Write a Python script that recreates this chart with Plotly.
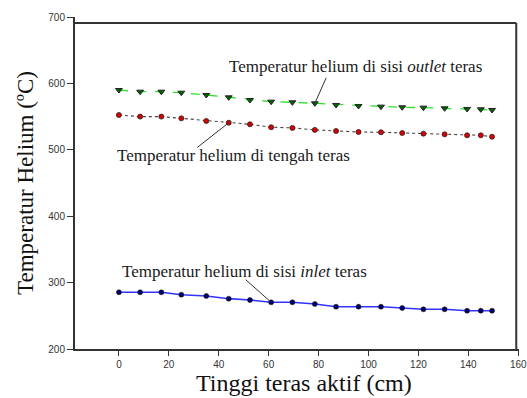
import plotly.graph_objects as go

x_cm = [0, 8.5, 17, 25, 35, 44, 52.5, 61, 69.5, 78.5, 87, 96, 105, 113.5, 122, 130.5, 139.5, 145, 149.5]
t_outlet = [590, 587.5, 587.5, 586, 582.5, 579, 575, 572.5, 571.5, 570, 567.5, 566, 565, 564, 563.5, 562.5, 561.5, 561, 560]
t_tengah = [552.4, 550, 550, 547.4, 543.4, 540.8, 538.4, 534, 533, 530, 528.3, 526.8, 526.4, 525.3, 524.3, 523.3, 521.8, 521.8, 519.7]
t_inlet = [285.4, 285.4, 285.4, 281.8, 279.8, 275.8, 273.8, 270.3, 270.3, 267.8, 263.7, 263.7, 263.7, 261.7, 259.8, 259.8, 257.7, 257.7, 257.7]

x_ticks = [0, 20, 40, 60, 80, 100, 120, 140, 160]
y_ticks = [200, 300, 400, 500, 600, 700]

serif = "Liberation Serif, Times New Roman, serif"
axc = "#333333"

fig = go.Figure()
fig.add_trace(go.Scatter(x=x_cm, y=t_outlet, mode="lines+markers",
    line=dict(color="#33dd33", width=1.3, dash="dash"),
    marker=dict(symbol="triangle-down", size=6, color="#006400", line=dict(color="#222", width=1))))
fig.add_trace(go.Scatter(x=x_cm, y=t_tengah, mode="lines+markers",
    line=dict(color="#444444", width=1.1, dash="dot"),
    marker=dict(symbol="circle", size=5, color="#dd0000", line=dict(color="#222", width=0.8))))
fig.add_trace(go.Scatter(x=x_cm, y=t_inlet, mode="lines+markers",
    line=dict(color="#3333ff", width=1.6),
    marker=dict(symbol="circle", size=5, color="#000066", line=dict(color="#111", width=0.5))))

ann_font = dict(family=serif, size=17, color="#1a1a1a")
fig.add_annotation(x=94.8, y=626, text="Temperatur helium di sisi <i>outlet</i> teras",
    showarrow=False, font=ann_font, xref="x", yref="y")
fig.add_annotation(x=x_cm[9], y=t_outlet[9], ax=12, ay=-27, text="", showarrow=True,
    arrowhead=0, arrowwidth=1, arrowcolor="#333", xref="x", yref="y")
fig.add_annotation(x=46, y=492, text="Temperatur helium di tengah teras",
    showarrow=False, font=ann_font, xref="x", yref="y")
fig.add_annotation(x=x_cm[5], y=t_tengah[5], ax=-33, ay=26, text="", showarrow=True,
    arrowhead=0, arrowwidth=1, arrowcolor="#333", xref="x", yref="y")
fig.add_annotation(x=50.4, y=316, text="Temperatur helium di sisi <i>inlet</i> teras",
    showarrow=False, font=ann_font, xref="x", yref="y")
fig.add_annotation(x=x_cm[7], y=t_inlet[7], ax=-27, ay=-24, text="", showarrow=True,
    arrowhead=0, arrowwidth=1, arrowcolor="#333", xref="x", yref="y")

# x-axis title
fig.add_annotation(x=0.516, y=0, xref="paper", yref="paper", yshift=-34, yanchor="middle",
    text="Tinggi teras aktif (cm)", showarrow=False,
    font=dict(family=serif, size=24, color="#111"))

# frame top and right
fig.add_shape(type="line", x0=-17.6, x1=159.2, y0=691, y1=691, xref="x", yref="y",
    line=dict(color=axc, width=2))
fig.add_shape(type="line", x0=159.2, x1=159.2, y0=200, y1=691, xref="x", yref="y",
    line=dict(color=axc, width=2))

fig.update_layout(
    width=527, height=398, showlegend=False,
    paper_bgcolor="white", plot_bgcolor="white",
    margin=dict(l=75, r=8, t=17, b=49, autoexpand=False),
    xaxis=dict(range=[-17.6, 160.3], tickvals=x_ticks, ticks="outside", ticklen=5,
        tickcolor=axc, showline=True, linecolor=axc, linewidth=2, showgrid=False,
        zeroline=False, ticklabeloverflow="allow", automargin=False,
        tickfont=dict(family="Liberation Sans, Arial", size=10, color="#333")),
    yaxis=dict(range=[200, 700], tickvals=y_ticks, ticks="outside", ticklen=6,
        tickcolor=axc, showline=True, linecolor=axc, linewidth=2, showgrid=False,
        zeroline=False, automargin=False,
        tickfont=dict(family="Liberation Sans, Arial", size=10, color="#333"),
        title=dict(text="Temperatur Helium (ºC)", font=dict(family=serif, size=23, color="#111"), standoff=8)),
)
fig.write_html("out.html")
